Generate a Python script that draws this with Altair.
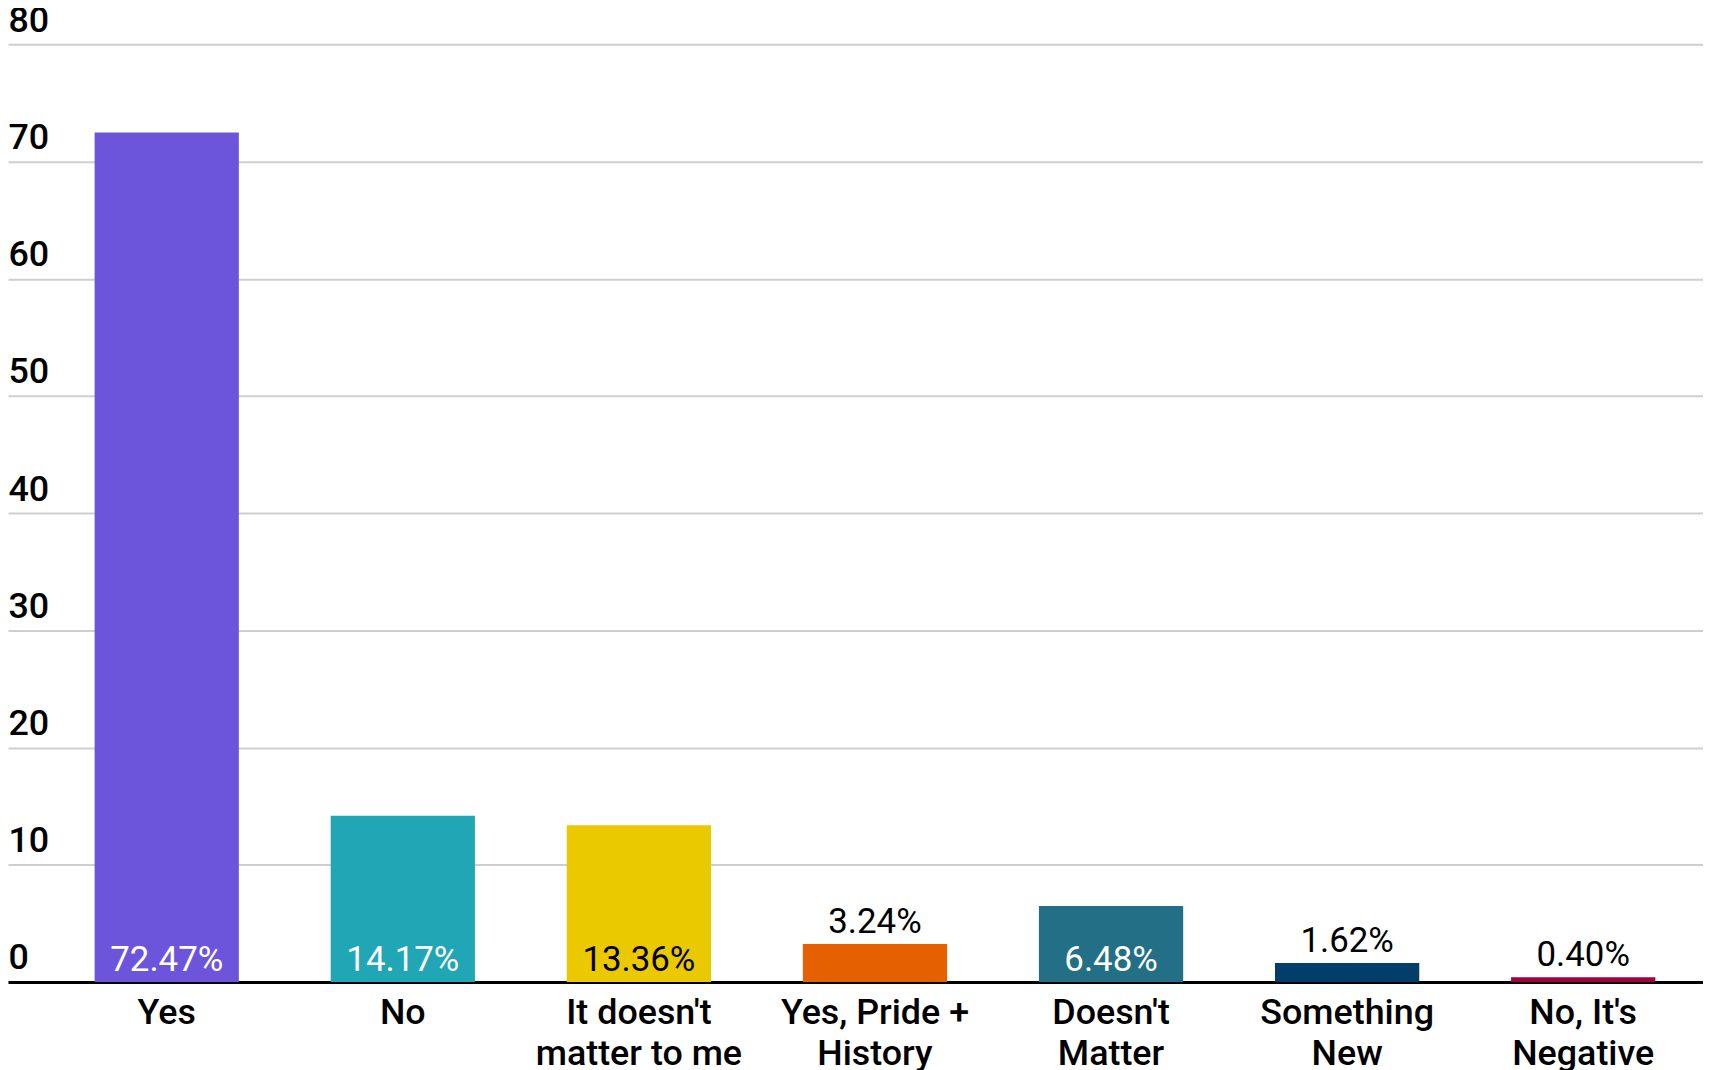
import json
import altair as alt
import pandas as pd

categories = ["Yes", "No", "It doesn't matter to me", "Yes, Pride + History",
              "Doesn't Matter", "Something New", "No, It's Negative"]
label_lines = [["Yes"], ["No"], ["It doesn't", "matter to me"], ["Yes, Pride +", "History"],
               ["Doesn't", "Matter"], ["Something", "New"], ["No, It's", "Negative"]]
values = [72.47, 14.17, 13.36, 3.24, 6.48, 1.62, 0.40]
bar_colors = ["#6D55DB", "#20A6B4", "#EBC900", "#E46000", "#236F85", "#023E69", "#A1003C"]
label_colors = ["#FFFFFF", "#FFFFFF", "#000000", "#000000", "#FFFFFF", "#000000", "#000000"]
y_ticks = [0, 10, 20, 30, 40, 50, 60, 70, 80]

df = pd.DataFrame({
    "category": categories,
    "value": values,
    "label": [f"{v:.2f}%" for v in values],
})

# multi-line x labels
expr = "datum.label"
for cat, lines in reversed(list(zip(categories, label_lines))):
    expr = f"datum.label == {json.dumps(cat)} ? {json.dumps(lines)} : ({expr})"

FONT = "Roboto"

x_enc = alt.X(
    "category:N",
    sort=categories,
    scale=alt.Scale(domain=categories, paddingInner=0.389, paddingOuter=0.2844, align=0.645),
    axis=alt.Axis(
        title=None, labelAngle=0, ticks=False, grid=False,
        domainColor="#000000", domainWidth=3,
        labelPadding=42, labelBaseline="alphabetic",
        labelFont=FONT, labelFontSize=36, labelFontWeight=500,
        labelColor="#000000", labelLineHeight=41, labelLimit=0,
        labelExpr=expr,
    ),
)
y_enc = alt.Y(
    "value:Q",
    scale=alt.Scale(domain=[0, 80], nice=False),
    axis=alt.Axis(
        title=None, values=y_ticks, ticks=False, domain=False,
        gridColor="#CFCFCF", gridWidth=2,
        labelAlign="left", labelPadding=0, labelBaseline="alphabetic", labelOffset=-13,
        labelFont=FONT, labelFontSize=36, labelFontWeight=500, labelColor="#000000",
    ),
)

base = alt.Chart(df)

bars = base.mark_bar().encode(
    x=x_enc,
    y=y_enc,
    color=alt.Color("category:N", scale=alt.Scale(domain=categories, range=bar_colors), legend=None),
)

text_in = base.transform_filter("datum.value >= 5").mark_text(
    font=FONT, fontSize=35, baseline="alphabetic", align="center", dy=-11
).encode(
    x=alt.X("category:N", sort=categories),
    y=alt.datum(0),
    text="label:N",
    color=alt.Color("category:N", scale=alt.Scale(domain=categories, range=label_colors), legend=None),
)

text_out = base.transform_filter("datum.value < 5").mark_text(
    font=FONT, fontSize=35, baseline="alphabetic", align="center", dy=-11, color="#000000"
).encode(
    x=alt.X("category:N", sort=categories),
    y="value:Q",
    text="label:N",
)

chart = alt.layer(bars, text_in, text_out).resolve_scale(color="independent").properties(
    width=1703,
    height=942,
    padding={"left": 0, "right": 0, "top": 34, "bottom": 86},
    autosize=alt.AutoSizeParams(type="none"),
    background="#FFFFFF",
).configure_view(stroke=None)

chart.save("out.html", embed_options={"renderer": "svg", "actions": False})
